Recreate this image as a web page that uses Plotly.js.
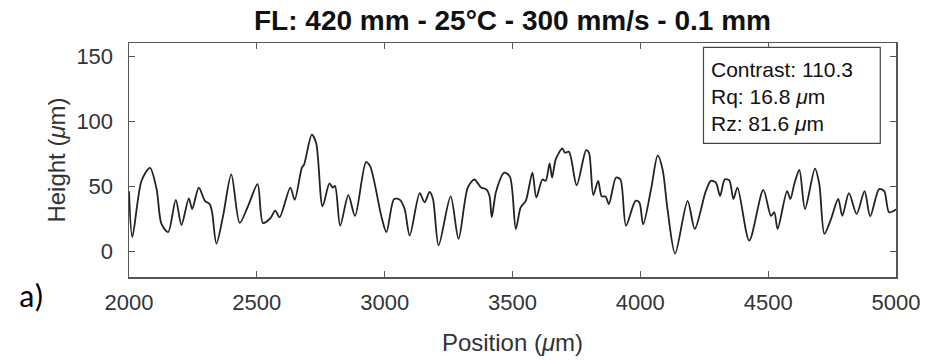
<!DOCTYPE html>
<html>
<head>
<meta charset="utf-8">
<script src="https://cdn.plot.ly/plotly-3.0.1.min.js"></script>
<style>html,body{margin:0;padding:0;background:#fff;}#chart{width:927px;height:360px;}</style>
</head>
<body>
<div id="chart"></div>
<script>
const positionUm = [2000,2013,2049,2082,2108,2127,2153,2183,2205,2234,2247,2273,2297,2316,2325,2342,2368,2400,2433,2466,
  2503,2524,2553,2572,2589,2631,2648,2676,2685,2715,2732,2757,2784,2797,2806,2826,2858,2884,2927,2943,
  2988,3007,3037,3059,3078,3098,3137,3156,3176,3189,3211,3258,3289,3325,3351,3377,3397,3410,3419,3436,
  3468,3490,3513,3532,3552,3578,3593,3617,3630,3645,3655,3669,3695,3705,3721,3751,3788,3799,3816,3835,
  3849,3864,3877,3905,3922,3944,3981,3996,4011,4042,4068,4087,4107,4136,4185,4213,4256,4276,4295,4312,
  4330,4348,4364,4380,4426,4481,4511,4524,4537,4574,4587,4602,4622,4644,4683,4700,4720,4746,4774,4790,
  4816,4846,4877,4899,4934,4954,4973,5000];
const heightUm = [46,10.7,54,64,47.6,20.8,14.5,39.4,20,40.5,32.3,48.8,38.6,36,29.8,5.6,27,59,21.6,34.8,
  51.4,21.6,25.2,31,26,48.8,39.4,64,66.6,89.5,83,34.3,52,48.8,50,19.5,43,27,68.4,65.3,
  26,14.5,40,39.4,32.3,11.9,44.5,37.4,45.5,40,4.3,42,9.4,48.8,55,48.8,47.6,42.4,26,46,
  60.3,57,17,33.6,38.6,60.3,41.2,55,54,67.4,56.5,70.5,78.9,75.6,76.3,50.6,77.6,75.6,43,54,
  42,42,36,56.5,55,19.5,38.6,37.4,20.5,47.6,73.5,62.8,31,-2,38.6,17,46,54,52.7,42.4,
  55,54.4,40,48.8,8,47,27,29.8,17,46,40,51.4,62.3,32.3,63.4,51.4,13.2,24.7,40,27,
  44.5,28.5,46,26.7,47.6,46,29.8,32];
const xTicks = [2000,2500,3000,3500,4000,4500,5000];
const yTicks = [0,50,100,150];
const titleText = 'FL: 420 mm - 25°C - 300 mm/s - 0.1 mm';
const statsLines = ['Contrast: 110.3', 'Rq: 16.8 <i>μ</i>m', 'Rz: 81.6 <i>μ</i>m'];

const font = 'Liberation Sans, Arial, sans-serif';
const axisColor = '#555';

const trace = {
  x: positionUm, y: heightUm, type: 'scatter', mode: 'lines',
  line: {color: '#222', width: 1.8, shape: 'spline', smoothing: 0.8},
  hoverinfo: 'skip'
};

const statsY = [0.8876, 0.7705, 0.6568];
const annotations = statsLines.map((t, i) => ({
  xref: 'paper', yref: 'paper', x: 0.756, y: statsY[i], xanchor: 'left', yanchor: 'middle',
  text: t, showarrow: false, font: {family: font, size: 21, color: '#111'}
}));
annotations.push({
  xref: 'paper', yref: 'paper', x: -0.127, y: -0.085, xanchor: 'center', yanchor: 'middle',
  text: 'a)', showarrow: false, font: {family: 'Carlito, Liberation Sans, sans-serif', size: 32, color: '#000'}
});

const layout = {
  width: 927, height: 360,
  margin: {l: 129, r: 31, t: 43, b: 83},
  paper_bgcolor: '#fff', plot_bgcolor: '#fff',
  showlegend: false,
  title: {text: '<b>' + titleText + '</b>', font: {family: font, size: 28, color: '#111'},
          x: 0.5, xref: 'paper', y: 0.944, yref: 'container', xanchor: 'center', yanchor: 'middle'},
  xaxis: {
    range: [2000, 5000], tickvals: xTicks, ticktext: xTicks.map(String),
    ticks: 'inside', ticklen: 6, tickcolor: axisColor, tickwidth: 1,
    showline: true, linecolor: axisColor, linewidth: 1.5, mirror: 'allticks',
    showgrid: false, zeroline: false, ticklabelstandoff: 5,
    tickfont: {family: font, size: 22, color: '#333'},
    title: {text: 'Position (<i>μ</i>m)', font: {family: font, size: 24, color: '#333'}, standoff: 20}
  },
  yaxis: {
    range: [-20, 160], tickvals: yTicks, ticktext: yTicks.map(String),
    ticks: 'inside', ticklen: 6, tickcolor: axisColor, tickwidth: 1,
    showline: true, linecolor: axisColor, linewidth: 1.5, mirror: 'allticks',
    showgrid: false, zeroline: false, ticklabelstandoff: 10,
    tickfont: {family: font, size: 22, color: '#333'},
    title: {text: 'Height (<i>μ</i>m)', font: {family: font, size: 24, color: '#333'}, standoff: 4}
  },
  shapes: [{
    type: 'rect', xref: 'paper', yref: 'paper', x0: 0.749, x1: 0.9795, y0: 0.5714, y1: 0.9816,
    line: {color: '#444', width: 1.2}, fillcolor: '#fff', layer: 'above'
  }],
  annotations: annotations
};

Plotly.newPlot('chart', [trace], layout, {displayModeBar: false, staticPlot: true});
</script>
</body>
</html>
